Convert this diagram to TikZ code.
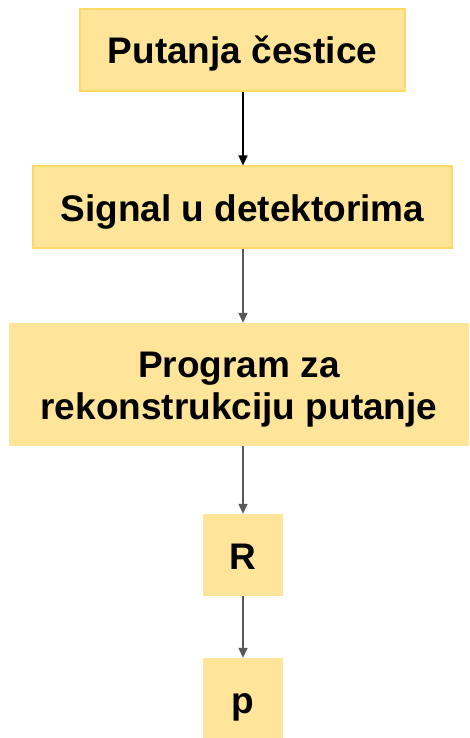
\documentclass[tikz,border=0pt]{standalone}
\usepackage{fontspec}
\setmainfont{Liberation Sans}
\usetikzlibrary{arrows.meta}
\definecolor{boxfill}{HTML}{FFE599}
\definecolor{boxline}{HTML}{FFD966}
\definecolor{arrowgray}{HTML}{595959}
% centre text on its capitals: fixed height, no depth
\newcommand\capline[1]{\raisebox{0pt}[28pt][0pt]{#1}}
\newcommand\captwo[2]{\raisebox{0pt}[70pt][0pt]{\begin{tabular}[b]{@{}c@{}}#1\\#2\end{tabular}}}
\begin{document}
\begin{tikzpicture}[x=1pt,y=-1pt,
  box/.style={fill=boxfill, inner sep=0pt,
    font=\fontsize{37}{42}\selectfont\bfseries},
  framed/.style={draw=boxline, line width=1.2pt},
  link/.style={line width=1.5pt, -{Triangle[length=10pt,width=9pt]}},
  blacklink/.style={link, draw=black},
  graylink/.style={link, draw=arrowgray}]
\useasboundingbox (0,0) rectangle (469,738);
\node[box, framed, minimum width=325pt, minimum height=82pt] (track) at (242.5,50) {\capline{Putanja čestice}};
\node[box, framed, minimum width=419pt, minimum height=82pt] (signal) at (242.5,207) {\capline{Signal u detektorima}};
\node[box, minimum width=460pt, minimum height=123pt] (prog) at (239,384.5) {\captwo{Program za}{rekonstrukciju putanje}};
\node[box, minimum width=80pt, minimum height=82pt] (R) at (243,555) {\capline{R}};
\node[box, minimum width=80pt, minimum height=80pt] (p) at (243,698) {\raisebox{0pt}[31pt][0pt]{p}};
\draw[blacklink] (track.south -| 243,0) -- (signal.north -| 243,0);
\draw[graylink] (signal.south -| 243,0) -- (prog.north -| 243,0);
\draw[graylink] (prog.south -| R.south) -- (R.north);
\draw[graylink] (R) -- (p);
\end{tikzpicture}
\end{document}
